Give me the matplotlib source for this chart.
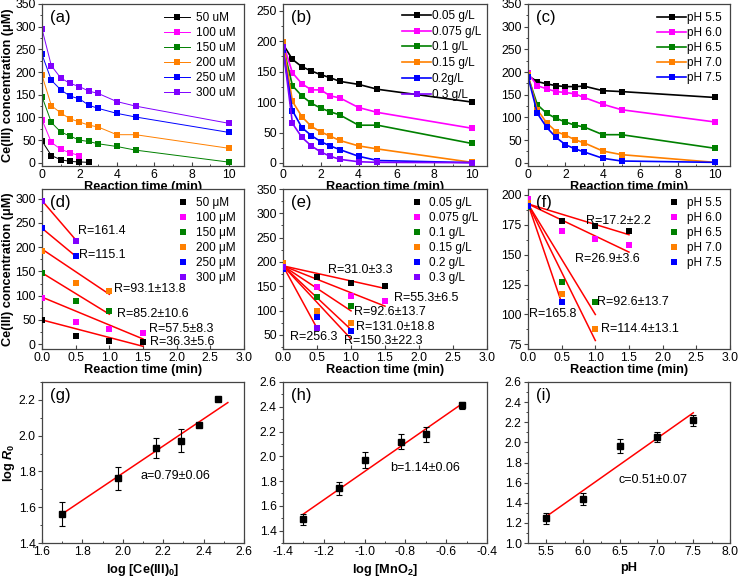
import numpy as np
import matplotlib
matplotlib.use("Agg")
import matplotlib.pyplot as plt
from matplotlib.ticker import MultipleLocator, FormatStrFormatter

plt.rcParams['font.family'] = ['Liberation Sans', 'DejaVu Sans']
plt.rcParams['mathtext.fontset'] = 'custom'
plt.rcParams['mathtext.rm'] = 'Liberation Sans:bold'
plt.rcParams['mathtext.bf'] = 'Liberation Sans:bold'
plt.rcParams['mathtext.it'] = 'Liberation Sans:bold:italic'
plt.rcParams['axes.unicode_minus'] = False

# ---------------- data ----------------
times = [0, 0.5, 1, 1.5, 2, 2.5, 3, 4, 5, 10]
colors6 = ['#000000', '#FF00FF', '#008000', '#FF8000', '#0000FF', '#8000FF']

# (a) initial Ce(III) concentration
a_labels = ['50 uM', '100 uM', '150 uM', '200 uM', '250 uM', '300 uM']
a_50 = [48, 16, 7, 3, 2, 1]
a_100 = [95, 45, 30, 22, 16]
a_150 = [146, 89, 68, 59, 50, 47, 42, 36, 28, 1.5]
a_200 = [193, 126, 110, 97, 90, 83, 79, 62, 62, 32]
a_250 = [239, 182, 161, 147, 141, 127, 120, 109, 101, 67]
a_300 = [295, 214, 187, 175, 168, 158, 153, 135, 125, 87]

# (b) MnO2 dose
b_labels = ['0.05 g/L', '0.075 g/L', '0.1 g/L', '0.15 g/L', '0.2g/L', '0.3 g/L']
b_005 = [195, 170, 158, 151, 145, 140, 134, 129, 121, 100]
b_0075 = [197, 148, 130, 120, 120, 110, 107, 91, 83, 57]
b_01 = [192, 127, 110, 98, 90, 84, 79, 62, 62, 32]
b_015 = [198, 101, 76, 60, 51, 44, 37, 28, 23, 1]
b_02 = [186, 86, 58, 45, 35, 28, 22, 11, 4, 0.5]
b_03 = [190, 65, 42, 28, 18, 11, 6, 2, 1, 0.5]

# (c) pH
c_labels = ['pH 5.5', 'pH 6.0', 'pH 6.5', 'pH 7.0', 'pH 7.5']
c_55 = [192, 179, 174, 170, 168, 168, 169, 159, 157, 144]
c_60 = [197, 170, 163, 157, 155, 152, 144, 129, 117, 90]
c_65 = [190, 128, 109, 98, 90, 83, 79, 62, 62, 32]
c_70 = [193, 117, 88, 69, 61, 51, 44, 26, 18, 1]
c_75 = [190, 109, 78, 56, 40, 31, 24, 10, 4, 1]

# (d) initial rates vs Ce(III)0
d_labels = ['50 \u03bcM', '100 \u03bcM', '150 \u03bcM', '200 \u03bcM', '250 \u03bcM', '300 \u03bcM']
d_50 = [49, 16, 7, 4]
d_100 = [95, 45, 31, 23]
d_150 = [146, 88, 69]
d_200 = [193, 127, 109]
d_250 = [239, 181]
d_300 = [295, 213]
d_rate = [36.3, 57.5, 85.2, 93.1, 115.1, 161.4]
d_c0 = [50, 97, 147, 196, 239, 296]
d_tend = [1.5, 1.5, 1.0, 1.0, 0.5, 0.5]
d_text = ['R=36.3\u00b15.6', 'R=57.5\u00b18.3', 'R=85.2\u00b110.6', 'R=93.1\u00b113.8',
          'R=115.1', 'R=161.4']
d_text_x = [1.61, 1.59, 1.12, 1.07, 0.555, 0.53]
d_text_y = [5, 32, 62, 114, 183, 233]

# (e) initial rates vs MnO2
e_labels = ['0.05 g/L', '0.075 g/L', '0.1 g/L', '0.15 g/L', '0.2 g/L', '0.3 g/L']
e_005 = [193, 170, 157, 151]
e_0075 = [192, 148, 130, 120]
e_01 = [192, 127, 110]
e_015 = [197, 100, 75]
e_02 = [186, 86, 58]
e_03 = [190, 64]
e_rate = [31.0, 55.3, 92.6, 131.0, 150.3, 256.3]
e_c0 = 192
e_tend = [1.5, 1.5, 1.0, 1.0, 1.0, 0.5]
e_text = ['R=31.0\u00b13.3', 'R=55.3\u00b16.5', 'R=92.6\u00b113.7', 'R=131.0\u00b118.8',
          'R=150.3\u00b122.3', 'R=256.3']
e_text_x = [0.66, 1.63, 1.04, 1.07, 0.9, 0.1]
e_text_y = [183.6, 126.7, 97, 67, 38, 45]

# (f) initial rates vs pH
f_labels = ['pH 5.5', 'pH 6.0', 'pH 6.5', 'pH 7.0', 'pH 7.5']
f_55 = [192, 178, 174, 170]
f_60 = [197, 170, 163, 158]
f_65 = [190, 127, 110]
f_70 = [193, 117, 88]
f_75 = [191, 110]
f_rate = [17.2, 26.9, 92.6, 114.4, 165.8]
f_c0 = 192.5
f_tend = [1.5, 1.5, 1.0, 1.0, 0.5]
f_text = ['R=17.2\u00b12.2', 'R=26.9\u00b13.6', 'R=92.6\u00b113.7', 'R=114.4\u00b113.1', 'R=165.8']
f_text_x = [0.86, 0.70, 1.02, 1.08, 0.015]
f_text_y = [178, 146.4, 110.7, 87.6, 100]

# (g) log R0 vs log Ce(III)0
g_x = [1.699, 1.978, 2.164, 2.286, 2.378, 2.470]
g_y = [1.562, 1.761, 1.930, 1.971, 2.062, 2.207]
g_err = [0.066, 0.063, 0.056, 0.065, 0.0, 0.0]
g_fit_x = [1.69, 2.52]
g_fit_y = [1.555, 2.185]

# (h) log R0 vs log MnO2
h_x = [-1.301, -1.125, -1.0, -0.824, -0.699, -0.523]
h_y = [1.491, 1.741, 1.967, 2.118, 2.177, 2.411]
h_err = [0.047, 0.054, 0.065, 0.062, 0.059, 0.031]
h_fit_x = [-1.30, -0.52]
h_fit_y = [1.534, 2.427]

# (i) log R0 vs pH
i_x = [5.5, 6.0, 6.5, 7.0, 7.5]
i_y = [1.244, 1.436, 1.964, 2.056, 2.221]
i_err = [0.056, 0.060, 0.066, 0.050, 0.055]
i_fit_x = [5.5, 7.5]
i_fit_y = [1.264, 2.294]

# ---------------- figure ----------------
W, H = 739, 577
fig = plt.figure(figsize=(W / 100, H / 100), dpi=100)


def rect(l, r, t, b):
    return [l / W, 1 - b / H, (r - l) / W, (b - t) / H]


cols = [(42, 244), (283, 487), (528, 730)]
rows = [(4, 166), (189, 349), (382, 543)]
axs = [[fig.add_axes(rect(c[0], c[1], r[0], r[1])) for c in cols] for r in rows]

TICK = 8.8
FRAME = '#444444'


def style(ax, xmaj, ymaj, xmin=None, ymin=None):
    for s in ax.spines.values():
        s.set_color(FRAME)
        s.set_linewidth(0.9)
    ax.xaxis.set_major_locator(MultipleLocator(xmaj))
    ax.yaxis.set_major_locator(MultipleLocator(ymaj))
    if xmin:
        ax.xaxis.set_minor_locator(MultipleLocator(xmin))
    if ymin:
        ax.yaxis.set_minor_locator(MultipleLocator(ymin))
    ax.tick_params(axis='x', which='major', direction='in', length=3, width=0.8,
                   color=FRAME, labelsize=TICK, pad=2)
    ax.tick_params(axis='x', which='minor', direction='in', length=1.8, width=0.7, color=FRAME)
    ax.tick_params(axis='y', which='major', direction='out', length=3, width=0.8,
                   color=FRAME, labelsize=TICK, pad=1.5)
    ax.tick_params(axis='y', which='minor', direction='out', length=1.8, width=0.7, color=FRAME)


def panel_label(ax, s):
    ax.text(0.04, 0.96, s, transform=ax.transAxes, fontsize=12, va='top', ha='left')


XL = dict(fontsize=9.2, fontweight='bold', labelpad=0)
YLAB = 'Ce(III) concentration (\u03bcM)'

# (a)
ax = axs[0][0]
for ser, col, lab in zip([a_50, a_100, a_150, a_200, a_250, a_300], colors6, a_labels):
    ax.plot(times[:len(ser)], ser, '-s', color=col, lw=0.7, ms=4.2, label=lab,
            markeredgewidth=0)
ax.set_xlim(0, 10.8)
ax.set_ylim(-7, 350)
style(ax, 2, 50, 1, 25)
ax.set_xlabel('Reaction time (min)', **XL)
ax.set_ylabel(YLAB, fontsize=9.2, fontweight='bold', labelpad=1)
ax.legend(loc='upper right', frameon=False, fontsize=8.5, handlelength=2.2,
          handletextpad=0.5, labelspacing=0.25, borderaxespad=0.3)
panel_label(ax, '(a)')

# (b)
ax = axs[0][1]
for ser, col, lab in zip([b_005, b_0075, b_01, b_015, b_02, b_03], colors6, b_labels):
    ax.plot(times, ser, '-s', color=col, lw=1.2, ms=4.2, label=lab, markeredgewidth=0)
ax.set_xlim(0, 10.8)
ax.set_ylim(-5, 261)
style(ax, 2, 50, 1, 25)
ax.set_xlabel('Reaction time (min)', **XL)
ax.legend(loc='upper right', frameon=False, fontsize=8.5, handlelength=2.4,
          handletextpad=0.1, labelspacing=0.32, borderaxespad=0.1)
panel_label(ax, '(b)')

# (c)
ax = axs[0][2]
for ser, col, lab in zip([c_55, c_60, c_65, c_70, c_75], colors6[:5], c_labels):
    ax.plot(times, ser, '-s', color=col, lw=1.2, ms=4.2, label=lab, markeredgewidth=0)
ax.set_xlim(0, 10.8)
ax.set_ylim(-7, 350)
style(ax, 2, 50, 1, 25)
ax.set_xlabel('Reaction time (min)', **XL)
ax.legend(loc='upper right', frameon=False, fontsize=8.5, handlelength=2.4,
          handletextpad=0.1, labelspacing=0.25, borderaxespad=0.3)
panel_label(ax, '(c)')

tt = [0, 0.5, 1.0, 1.5]


def rate_panel(ax, series, labels, rates, c0s, tends, texts, tx, ty, ncol):
    for k, (ser, col, lab) in enumerate(zip(series, colors6[:ncol], labels)):
        ax.plot(tt[:len(ser)], ser, 's', color=col, ms=4.2, label=lab, markeredgewidth=0,
                zorder=3)
    for k in range(ncol):
        c0 = c0s[k] if hasattr(c0s, '__len__') else c0s
        x = np.array([0, tends[k]])
        ax.plot(x, c0 - rates[k] * x, color='red', lw=1.1, zorder=2)
    for s, x, y in zip(texts, tx, ty):
        ax.text(x, y, s, fontsize=9, ha='left', va='center', zorder=4)
    ax.set_xlim(0, 3)
    ax.xaxis.set_major_formatter(FormatStrFormatter('%.1f'))
    ax.set_xlabel('Reaction time (min)', **XL)
    ax.legend(loc='upper right', frameon=False, fontsize=8.5, handlelength=1.0,
              handletextpad=0.6, labelspacing=0.25, borderaxespad=0.3)


# (d)
ax = axs[1][0]
rate_panel(ax, [d_50, d_100, d_150, d_200, d_250, d_300], d_labels, d_rate, d_c0, d_tend,
           d_text, d_text_x, d_text_y, 6)
ax.set_ylim(-10, 320)
style(ax, 0.5, 50, None, 25)
ax.set_ylabel(YLAB, fontsize=9.2, fontweight='bold', labelpad=1)
panel_label(ax, '(d)')

# (e)
ax = axs[1][1]
rate_panel(ax, [e_005, e_0075, e_01, e_015, e_02, e_03], e_labels, e_rate, e_c0, e_tend,
           e_text, e_text_x, e_text_y, 6)
ax.set_ylim(21, 350)
style(ax, 0.5, 50, None, 25)
panel_label(ax, '(e)')

# (f)
ax = axs[1][2]
rate_panel(ax, [f_55, f_60, f_65, f_70, f_75], f_labels, f_rate, f_c0, f_tend,
           f_text, f_text_x, f_text_y, 5)
ax.set_ylim(71, 205)
style(ax, 0.5, 25, None, 12.5)
panel_label(ax, '(f)')


def log_panel(ax, x, y, err, fx, fy):
    ax.errorbar(x, y, yerr=err, fmt='s', color='black', ms=4.5, capsize=2,
                elinewidth=0.8, capthick=0.8, zorder=3)
    ax.plot(fx, fy, color='red', lw=1.1, zorder=2)
    ax.yaxis.set_major_formatter(FormatStrFormatter('%.1f'))
    ax.xaxis.set_major_formatter(FormatStrFormatter('%.1f'))


# (g)
ax = axs[2][0]
log_panel(ax, g_x, g_y, g_err, g_fit_x, g_fit_y)
ax.set_xlim(1.6, 2.6)
ax.set_ylim(1.4, 2.3)
style(ax, 0.2, 0.2, 0.1, 0.1)
ax.text(2.088, 1.772, 'a=0.79\u00b10.06', fontsize=9, va='center')
ax.set_xlabel('log [Ce(III)$_0$]', fontsize=9.2, fontweight='bold', labelpad=3)
ax.set_ylabel('log $R_0$', fontsize=9.2, fontweight='bold', labelpad=1)
panel_label(ax, '(g)')

# (h)
ax = axs[2][1]
log_panel(ax, h_x, h_y, h_err, h_fit_x, h_fit_y)
ax.set_xlim(-1.4, -0.4)
ax.set_ylim(1.3, 2.6)
style(ax, 0.2, 0.2, 0.1, 0.1)
ax.text(-0.877, 1.903, 'b=1.14\u00b10.06', fontsize=9, va='center')
ax.set_xlabel('log [MnO$_2$]', fontsize=9.2, fontweight='bold', labelpad=3)
panel_label(ax, '(h)')

# (i)
ax = axs[2][2]
log_panel(ax, i_x, i_y, i_err, i_fit_x, i_fit_y)
ax.set_xlim(5.25, 8.0)
ax.set_ylim(1.0, 2.6)
style(ax, 0.5, 0.2, 0.25, 0.1)
ax.text(6.487, 1.627, 'c=0.51\u00b10.07', fontsize=9, va='center')
ax.set_xlabel('pH', fontsize=9.2, fontweight='bold', labelpad=3)
panel_label(ax, '(i)')

fig.savefig('out.png', dpi=100)
